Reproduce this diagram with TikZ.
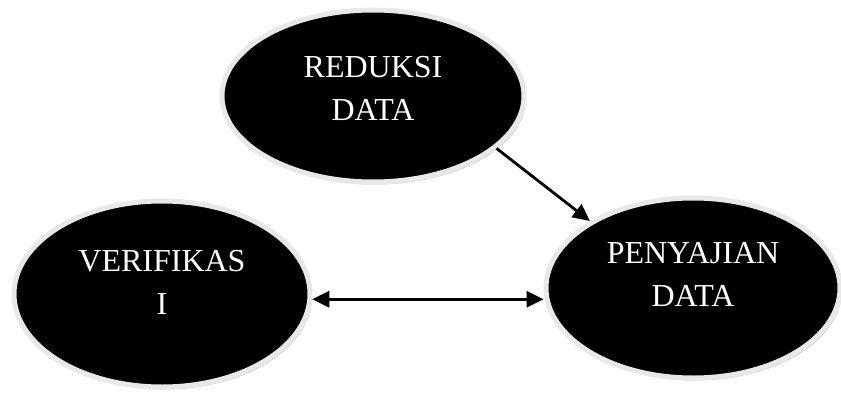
\documentclass[tikz,border=0pt]{standalone}
\usepackage{fontspec}
\setmainfont{Liberation Serif}
\usepackage{tikz}
\usetikzlibrary{shapes.geometric, shadows, arrows.meta}
\colorlet{myring}{black!9}
\colorlet{myshade}{black!40}
\tikzset{>={Triangle[length=17pt,width=16pt]}}
\tikzset{
  bubble/.style={ellipse, fill=black, draw=myring, line width=5pt, inner sep=0pt,
    drop shadow={shadow xshift=2pt, shadow yshift=-2.5pt, fill=myshade}},
  lbl/.style={text=white, align=center, font=\fontsize{32}{43}\selectfont}
}

\begin{document}
\begin{tikzpicture}[x=1pt, y=-1pt]

\useasboundingbox (0,0) rectangle (841,396);

% Ellipses
\node[bubble, minimum width=302pt, minimum height=172pt,
  label={[lbl, yshift=8pt]center:REDUKSI\\DATA}] (reduksi) at (373,96) {};
\node[bubble, minimum width=296pt, minimum height=186pt,
  label={[lbl, yshift=12pt]center:VERIFIKAS\\I}] (verifikasi) at (162,294) {};
\node[bubble, minimum width=294pt, minimum height=180pt,
  label={[lbl, yshift=14pt]center:PENYAJIAN\\DATA}] (penyajian) at (693,288) {};

% Arrows
\draw[->, line width=2.8pt] (reduksi.-23) -- (penyajian.147);
\draw[<->, line width=2.8pt] (verifikasi.-2) -- (verifikasi.-2 -| penyajian.west);

\end{tikzpicture}
\end{document}
